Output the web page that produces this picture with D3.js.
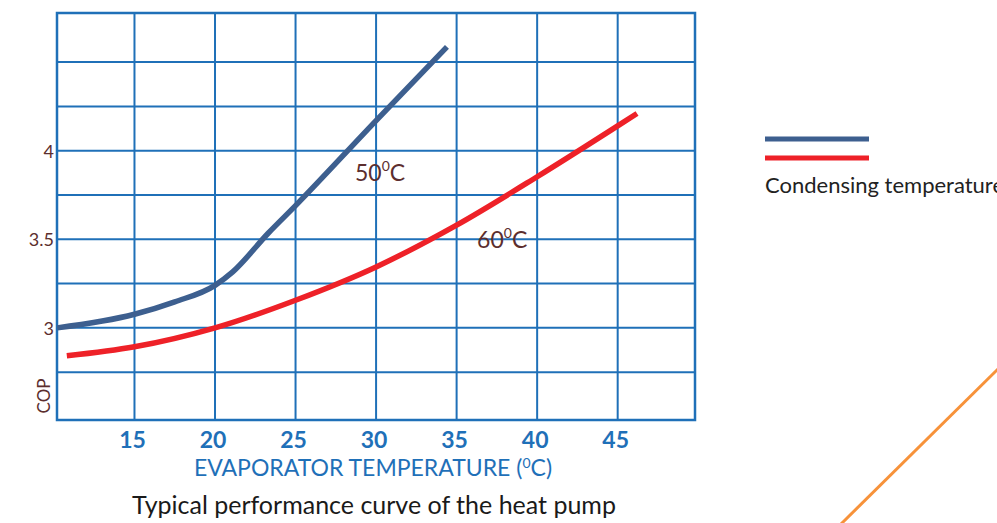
<!DOCTYPE html>
<html>
<head>
<meta charset="utf-8">
<script src="https://cdn.jsdelivr.net/npm/d3@7"></script>
<style>
  body { margin: 0; background: #fff; }
  svg { display: block; font-family: Lato, "Open Sans", sans-serif; }
</style>
</head>
<body>
<div id="cop_chart"></div>
<script>
// data (evaporator temp in C, COP)
var temps50 = [10.2, 15, 17.5, 20, 21.1, 23.3, 25, 30, 34.4];
var cop50   = [3.0, 3.077, 3.147, 3.24, 3.316, 3.534, 3.69, 4.17, 4.586];
var temps60 = [10.8, 15, 20, 25, 30, 35, 40, 45, 46.2];
var cop60   = [2.842, 2.893, 3.0, 3.156, 3.344, 3.58, 3.853, 4.14, 4.21];

var xTicks = [15, 20, 25, 30, 35, 40, 45];
var yGrid = [2.75, 3, 3.25, 3.5, 3.75, 4, 4.25, 4.5];
var yLabels = [3, 3.5, 4];
var seriesNames = ["50", "60"];
var seriesColors = ["#3d5f8f", "#ee2128"];

// dimensions of the plot frame
var margin = {top: 13, left: 57},
    width = 638,
    height = 407;

var svg = d3.select("#cop_chart")
  .append("svg")
    .attr("width", 997)
    .attr("height", 523);

var g = svg.append("g")
    .attr("transform", "translate(" + margin.left + "," + margin.top + ")");

var x = d3.scaleLinear().domain([10.19, 49.8]).range([0, width]);
var y = d3.scaleLinear().domain([2.48, 4.777]).range([height, 0]);

var gridColor = "#1f70b8";

// vertical grid lines
g.selectAll(".vgrid")
  .data(xTicks)
  .enter().append("line")
    .attr("x1", function(d) { return x(d); })
    .attr("x2", function(d) { return x(d); })
    .attr("y1", 0)
    .attr("y2", height)
    .attr("stroke", gridColor)
    .attr("stroke-width", 2);

// horizontal grid lines
g.selectAll(".hgrid")
  .data(yGrid)
  .enter().append("line")
    .attr("x1", 0)
    .attr("x2", width)
    .attr("y1", function(d) { return y(d); })
    .attr("y2", function(d) { return y(d); })
    .attr("stroke", gridColor)
    .attr("stroke-width", 2);

// frame
g.append("rect")
  .attr("width", width)
  .attr("height", height)
  .attr("fill", "none")
  .attr("stroke", gridColor)
  .attr("stroke-width", 2.5);

// x tick labels
g.selectAll(".xlab")
  .data(xTicks)
  .enter().append("text")
    .attr("x", function(d) { return x(d) - 2; })
    .attr("y", height + 28)
    .attr("text-anchor", "middle")
    .attr("fill", "#1f70b8")
    .style("font-size", "23px")
    .style("font-weight", "bold")
    .text(function(d) { return d; });

// y tick labels
g.selectAll(".ylab")
  .data(yLabels)
  .enter().append("text")
    .attr("x", -3)
    .attr("y", function(d) { return y(d) + 7; })
    .attr("text-anchor", "end")
    .attr("fill", "#5c2e2e")
    .style("font-size", "18px")
    .text(function(d) { return d; });

// COP label
svg.append("text")
  .attr("transform", "translate(50,396) rotate(-90)")
  .attr("text-anchor", "middle")
  .attr("fill", "#5c2e2e")
  .style("font-size", "17px")
  .text("COP");

// axis title
var xt = svg.append("text")
  .attr("x", 373)
  .attr("y", 476)
  .attr("text-anchor", "middle")
  .attr("fill", "#1f70b8")
  .style("font-size", "23px");
xt.append("tspan").text("EVAPORATOR TEMPERATURE (");
xt.append("tspan").attr("dy", -8).style("font-size", "14px").text("0");
xt.append("tspan").attr("dy", 8).text("C)");

// caption
svg.append("text")
  .attr("x", 374)
  .attr("y", 514)
  .attr("text-anchor", "middle")
  .attr("fill", "#1a1a1a")
  .style("font-size", "25px")
  .text("Typical performance curve of the heat pump");

// curves
var line = d3.line()
  .x(function(d) { return x(d[0]); })
  .y(function(d) { return y(d[1]); })
  .curve(d3.curveMonotoneX);

var series = [d3.zip(temps50, cop50), d3.zip(temps60, cop60)];

g.selectAll(".curve")
  .data(series)
  .enter().append("path")
    .attr("d", line)
    .attr("fill", "none")
    .attr("stroke", function(d, i) { return seriesColors[i]; })
    .attr("stroke-width", 5.5);

// curve labels
var labelPos = [[28.69, 3.829], [36.27, 3.451]];
labelPos.forEach(function(p, i) {
  var t = g.append("text")
    .attr("x", x(p[0]))
    .attr("y", y(p[1]))
    .attr("fill", "#5c2e2e")
    .style("font-size", "23px");
  t.append("tspan").text(seriesNames[i]);
  t.append("tspan").attr("dy", -10).style("font-size", "14px").text("0");
  t.append("tspan").attr("dy", 10).text("C");
});

// legend (text runs off the right edge, as in the source)
var legend = svg.append("g").attr("transform", "translate(765,139)");
legend.selectAll("line")
  .data(seriesColors)
  .enter().append("line")
    .attr("x1", 0)
    .attr("x2", 104)
    .attr("y1", function(d, i) { return i * 19; })
    .attr("y2", function(d, i) { return i * 19; })
    .attr("stroke", function(d) { return d; })
    .attr("stroke-width", 5);
legend.append("text")
  .attr("x", 0)
  .attr("y", 54)
  .attr("fill", "#222")
  .style("font-size", "22px")
  .text("Condensing temperature");

// orange decoration line
svg.append("line")
  .attr("x1", 841)
  .attr("y1", 524)
  .attr("x2", 998)
  .attr("y2", 369)
  .attr("stroke", "#f7923a")
  .attr("stroke-width", 3);
</script>
</body>
</html>
